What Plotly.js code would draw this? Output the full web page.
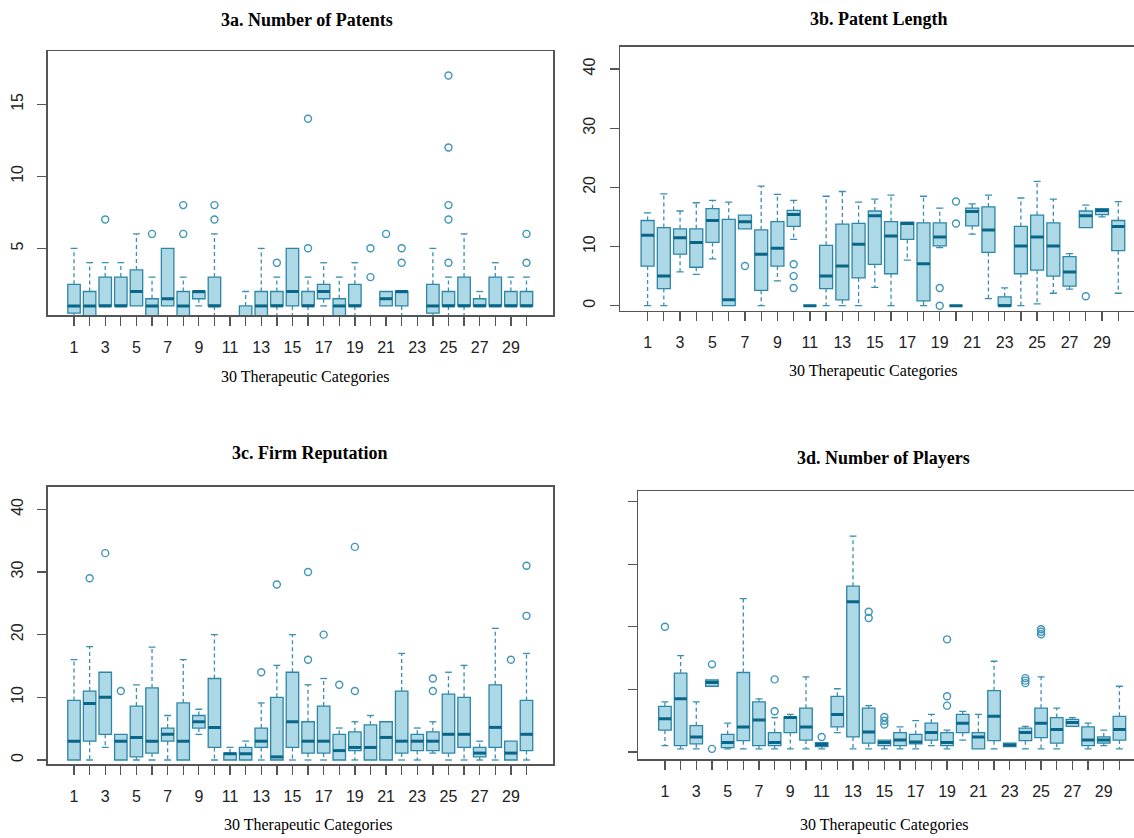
<!DOCTYPE html>
<html>
<head>
<meta charset="utf-8">
<script src="https://cdn.plot.ly/plotly-3.0.1.min.js"></script>
<style>
html,body{margin:0;padding:0;background:#ffffff;}
#chart{width:1134px;height:838px;}
</style>
</head>
<body>
<div id="chart"></div>
<script>
// ---------- categories & tick labels ----------
const categories = [1,2,3,4,5,6,7,8,9,10,11,12,13,14,15,16,17,18,19,20,21,22,23,24,25,26,27,28,29,30];
const xTickText = ['1','','3','','5','','7','','9','','11','','13','','15','','17','','19','','21','','23','','25','','27','','29',''];
const panelTitles = ['3a. Number of Patents','3b. Patent Length','3c. Firm Reputation','3d. Number of Players'];
const xAxisTitle = '30 Therapeutic Categories';

// ---------- 3a. Number of Patents ----------
const patQ1  = [0.5,0,1,1,1,0,1,0,1.5,1,0,0,0,1,1,1,1.5,0,1,0,1,1,0,0.5,1,1,1,1,1,1];
const patMed = [1,1,1,1,2,1,1.5,1,2,1,0,0,1,1,2,1,2,1,1,0,1.5,2,0,1,1,1,1,1,1,1];
const patQ3  = [2.5,2,3,3,3.5,1.5,5,2,2,3,0,1,2,2,5,2,2.5,1.5,2.5,0,2,2,0,2.5,2,3,1.5,3,2,2];
const patLo  = [0,0,1,1,1,0,1,0,1,0,0,0,0,0,0,0,1,0,0,0,1,0,0,0,0,0,1,1,1,1];
const patHi  = [5,4,4,4,6,3,5,3,2,6,0,2,5,3,5,3,4,3,4,0,2,2,0,5,3,6,2,4,3,3];
const patOut = [[],[],[7],[],[],[6],[],[6,8],[],[7,8],[],[],[],[4],[],[5,14],[],[],[],[3,5],[6],[4,5],[],[],[4,7,8,12,17],[],[],[],[],[4,6]];

// ---------- 3b. Patent Length ----------
const lenQ1  = [6.7,2.9,8.7,6.5,10.7,0,13.0,2.6,6.7,13.4,0,2.9,1.0,4.7,7.0,5.4,11.2,0.8,10.1,0,13.5,9.0,0,5.4,6.0,5.0,3.3,13.2,15.4,9.3];
const lenMed = [11.9,5.0,11.5,10.7,14.4,1.0,14.2,8.7,9.7,15.4,0,5.0,6.7,10.4,15.2,11.8,13.9,7.1,11.6,0,15.9,12.8,0,10.1,11.6,10.1,5.7,15.2,16.1,13.4];
const lenQ3  = [14.4,13.2,13.0,13.0,16.4,14.6,15.3,12.8,14.2,16.1,0,10.2,13.8,13.9,16.0,14.2,14.1,14.0,14.0,0,16.5,16.7,1.5,13.4,15.3,14.0,8.3,16.0,16.4,14.4];
const lenLo  = [0,0,5.7,5.3,7.9,0,13.0,0,4.2,11.2,0,0,0,0,3.1,0,7.7,0,9.8,0,12.1,1.2,0,0,0.3,2.1,2.8,13.2,15.0,2.1];
const lenHi  = [15.7,18.9,16.0,17.4,17.8,17.5,15.3,20.2,18.8,17.8,0,18.5,19.3,17.5,18.0,18.7,14.1,18.5,16.5,0,17.2,18.7,3.0,18.2,21.0,18.0,8.8,17.0,16.4,17.6];
const lenOut = [[],[],[],[],[],[],[6.7],[],[],[7.0,5.0,3.0],[],[],[],[],[],[],[],[],[3.0,0],[13.9,17.6],[],[],[],[],[],[],[],[1.6],[],[]];

// ---------- 3c. Firm Reputation ----------
const repQ1  = [0,3.0,4.1,0,0.5,1.1,3.0,0,5.1,2.0,0,0,2.0,0,2.0,1.1,1.1,0,1.5,0,0,1.1,1.5,1.5,1.1,2.0,0.5,2.0,0,1.5];
const repMed = [3,9,10,3,3.6,3,4.1,3,6.1,5.2,1,1,3,0.5,6.1,3,3,1.5,2,2,3.6,3,3,3,4.1,4.1,1.1,5.2,1.1,4.1];
const repQ3  = [9.5,11,14,4.1,8.6,11.5,5.1,9.1,7.1,13,1.1,2,5.1,10,14,6.1,8.6,4.1,4.5,5.6,6.1,11,4.1,4.5,10.5,10,2,12,3,9.5];
const repLo  = [0,0,2,0,0,0,0,0,4.1,0,0,0,0,0,0,0,0,0,0,0,0,0,0,1.1,0,0,0,0,0,0];
const repHi  = [16,18.1,14,4.1,12,18,7.1,16,8.1,20,2,3,9.1,15.1,20,12,13,5.1,6.1,7.1,6.1,17,5.1,6.1,14,15.1,3,21,3,17];
const repOut = [[],[29],[33],[11],[],[],[],[],[],[],[],[],[14],[28],[],[16,30],[20],[12],[11,34],[],[],[],[],[11,13],[],[],[],[],[16],[23,31]];

// ---------- 3d. Number of Players ----------
const plQ1  = [3.5,1.0,1.3,10.5,0.7,1.8,1.0,1.0,3.1,1.9,0.85,4.0,2.4,1.4,1.0,1.0,1.3,1.9,1.0,3.1,0.5,1.8,0.85,1.8,2.3,1.4,4.1,1.0,1.4,1.9];
const plMed = [5.3,8.5,2.4,11.1,1.5,4.0,5.1,1.5,5.5,4.0,1.2,6.0,24.0,3.2,1.5,1.9,1.6,3.1,1.5,4.6,2.4,5.7,1.1,3.1,4.6,3.6,4.7,1.9,1.9,3.6];
const plQ3  = [7.3,12.6,4.2,11.5,2.8,12.7,8.0,3.1,5.6,7.0,1.5,8.9,26.5,7.0,1.9,3.1,2.8,4.6,3.1,6.0,3.1,9.8,1.4,3.8,7.0,5.5,5.2,4.0,2.4,5.7];
const plLo  = [1.0,0.5,0.5,10.5,0.5,0.5,0.5,0.5,0.5,0.5,0.5,3.1,0.5,0.5,0.5,0.5,0.5,1.0,0.5,1.9,0.5,0.5,0.85,0.5,0.5,0.5,4.1,0.5,1.0,0.5];
const plHi  = [8.0,15.4,8.0,11.5,4.6,24.5,8.5,5.5,6.0,12.0,1.5,10.1,34.5,7.4,1.9,4.0,5.0,6.0,3.5,6.5,6.0,14.5,1.4,4.1,12.0,7.0,5.5,4.6,3.5,10.5];
const plOut = [[20],[],[],[14,0.5],[],[],[],[6.5,11.6],[],[],[2.4],[],[],[22.4,21.4],[5.6,5.0,4.4],[],[],[],[7.4,8.9,18.0],[],[],[],[],[11.8,11.4,11.0],[19.6,19.2,18.8],[],[],[],[],[]];

// ---------- styling ----------
const FILL = '#add8e6';
const BORDER = '#2c86a8';
const MEDIAN = '#0a6688';
const WHISK = '#3a8fb1';
const OUTC = '#3f95b8';
const BOXW = 0.8, CAPW = 0.22;

const panels = [
  {q1:patQ1, med:patMed, q3:patQ3, lo:patLo, hi:patHi, out:patOut, xa:'x',  ya:'y'},
  {q1:lenQ1, med:lenMed, q3:lenQ3, lo:lenLo, hi:lenHi, out:lenOut, xa:'x2', ya:'y2'},
  {q1:repQ1, med:repMed, q3:repQ3, lo:repLo, hi:repHi, out:repOut, xa:'x3', ya:'y3'},
  {q1:plQ1,  med:plMed,  q3:plQ3,  lo:plLo,  hi:plHi,  out:plOut,  xa:'x4', ya:'y4'}
];

const traces = [];
panels.forEach(p => {
  const wx = [], wy = [], cx = [], cy = [], mx = [], my = [], ox = [], oy = [];
  categories.forEach((c, i) => {
    if (p.hi[i] > p.q3[i]) {
      wx.push(c, c, null); wy.push(p.q3[i], p.hi[i], null);
      cx.push(c - CAPW, c + CAPW, null); cy.push(p.hi[i], p.hi[i], null);
    }
    if (p.lo[i] < p.q1[i]) {
      wx.push(c, c, null); wy.push(p.q1[i], p.lo[i], null);
      cx.push(c - CAPW, c + CAPW, null); cy.push(p.lo[i], p.lo[i], null);
    }
    mx.push(c - BOXW/2, c + BOXW/2, null); my.push(p.med[i], p.med[i], null);
    p.out[i].forEach(v => { ox.push(c); oy.push(v); });
  });
  traces.push({type:'scatter', mode:'lines', x:wx, y:wy, xaxis:p.xa, yaxis:p.ya,
    line:{color:WHISK, width:1.3, dash:'4px,3px'}, hoverinfo:'skip', showlegend:false});
  traces.push({type:'scatter', mode:'lines', x:cx, y:cy, xaxis:p.xa, yaxis:p.ya,
    line:{color:WHISK, width:1.3}, hoverinfo:'skip', showlegend:false});
  traces.push({type:'box', x:categories, q1:p.q1, median:p.med, q3:p.q3,
    lowerfence:p.q1, upperfence:p.q3, width:BOXW, xaxis:p.xa, yaxis:p.ya,
    fillcolor:FILL, line:{color:BORDER, width:1.3}, boxpoints:false,
    hoverinfo:'skip', showlegend:false});
  traces.push({type:'scatter', mode:'lines', x:mx, y:my, xaxis:p.xa, yaxis:p.ya,
    line:{color:MEDIAN, width:3}, hoverinfo:'skip', showlegend:false});
  traces.push({type:'scatter', mode:'markers', x:ox, y:oy, xaxis:p.xa, yaxis:p.ya,
    marker:{symbol:'circle-open', size:7, color:OUTC, line:{width:1.4, color:OUTC}},
    hoverinfo:'skip', showlegend:false, cliponaxis:false});
});

const W = 1134, H = 838;
const tickFont = {family:'Liberation Sans, Arial, sans-serif', size:16, color:'#222'};
function xax(l, r, rng, mirror) {
  return {domain:[l/W, r/W], range:rng, tickmode:'array', tickvals:categories, ticktext:xTickText,
    showgrid:false, zeroline:false, showline:true, mirror:mirror, linecolor:'#555', linewidth:1.5,
    ticks:'outside', ticklen:9, tickwidth:1.3, tickcolor:'#555', tickfont:tickFont,
    ticklabelstandoff:8, fixedrange:true};
}
function yax(top, bot, rng, vals, labels, mirror) {
  return {domain:[1 - bot/H, 1 - top/H], range:rng, tickmode:'array', tickvals:vals,
    showticklabels:labels, tickangle:-90,
    showgrid:false, zeroline:false, showline:true, mirror:mirror, linecolor:'#555', linewidth:1.5,
    ticks:'outside', ticklen:9, tickwidth:1.3, tickcolor:'#555', tickfont:tickFont,
    ticklabelstandoff:8, fixedrange:true};
}

const SERIF = '"Times New Roman", "Liberation Serif", "DejaVu Serif", serif';
const titleFont = {family:SERIF, size:18, color:'#000', weight:'bold'};
const labFont = {family:SERIF, size:16, color:'#000'};
function ann(text, xc, yc, font) {
  return {text:text, x:xc/W, y:1 - yc/H, xref:'paper', yref:'paper', xanchor:'center', yanchor:'middle',
    showarrow:false, font:font};
}

const layout = {
  width:W, height:H, margin:{l:0, r:0, t:0, b:0}, paper_bgcolor:'#fff', plot_bgcolor:'#fff',
  showlegend:false,
  xaxis:  Object.assign(xax(47.5, 553, [-0.7, 31.7], true), {anchor:'y'}),
  yaxis:  Object.assign(yax(51, 315, [0.37, 18.7], [5,10,15], true, true), {anchor:'x'}),
  xaxis2: Object.assign(xax(620, 1134, [-0.7, 30.97], true), {anchor:'y2'}),
  yaxis2: Object.assign(yax(46.7, 310.7, [-0.845, 43.77], [0,10,20,30,40], true, false), {anchor:'x2'}),
  xaxis3: Object.assign(xax(47.5, 553, [-0.7, 31.7], true), {anchor:'y3'}),
  yaxis3: Object.assign(yax(486.7, 764.3, [-0.686, 43.6], [0,10,20,30,40], true, true), {anchor:'x3'}),
  xaxis4: Object.assign(xax(638.3, 1134, [-0.7, 30.93], true), {anchor:'y4'}),
  yaxis4: Object.assign(yax(491, 759.3, [-1.17, 41.7], [0,10,20,30,40], false, false), {anchor:'x4'}),
  annotations: [
    ann(panelTitles[0], 307, 20, titleFont),
    ann(panelTitles[1], 879, 19, titleFont),
    ann(panelTitles[2], 309, 452.7, titleFont),
    ann(panelTitles[3], 883, 458.3, titleFont),
    ann(xAxisTitle, 305, 376.7, labFont),
    ann(xAxisTitle, 873, 370.7, labFont),
    ann(xAxisTitle, 308, 825, labFont),
    ann(xAxisTitle, 884, 825, labFont)
  ]
};

Plotly.newPlot('chart', traces, layout, {staticPlot:true, displayModeBar:false});
</script>
</body>
</html>
